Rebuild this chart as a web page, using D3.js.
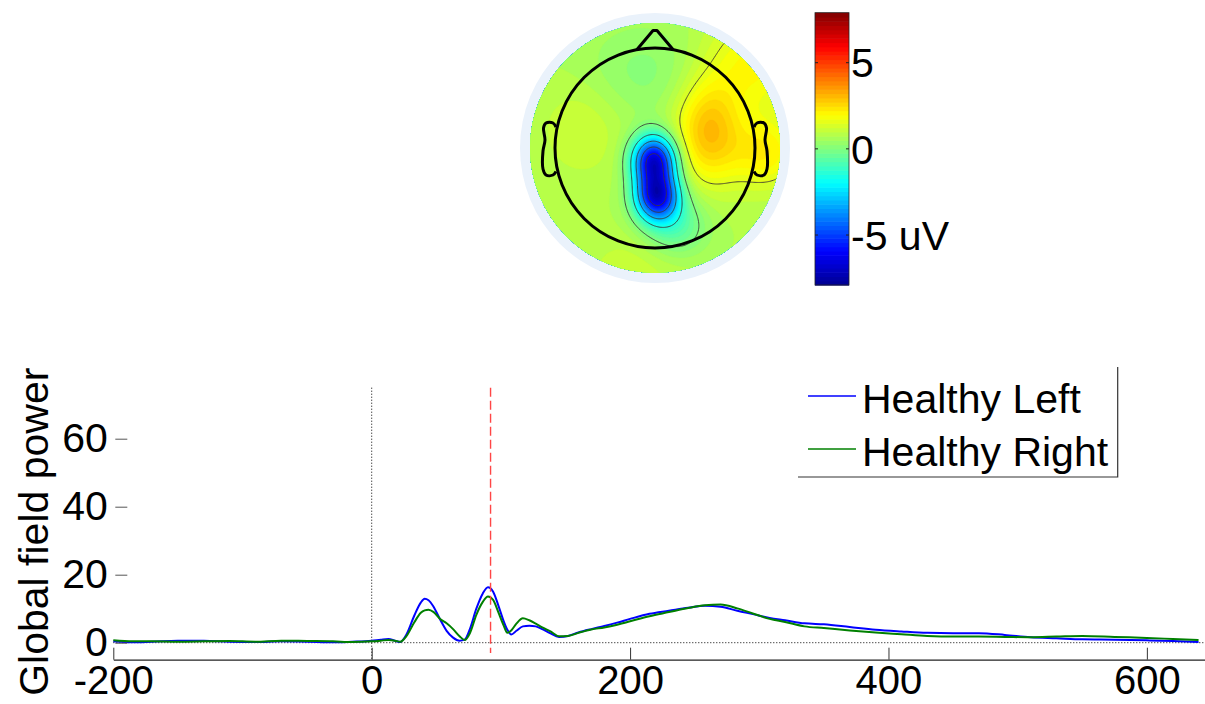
<!DOCTYPE html>
<html>
<head>
<meta charset="utf-8">
<script src="https://cdn.jsdelivr.net/npm/d3@7"></script>
<style>
  html, body { margin: 0; padding: 0; background: #fff; }
  svg { display: block; font-family: "Liberation Sans", Arial, Helvetica, sans-serif; }
</style>
</head>
<body>
<svg id="fig" width="1205" height="704"></svg>
<script>
// ---------------- data ----------------
// Global field power time courses (ms, uV^2)
const timesMs = [-200, -185, -170, -150, -130, -110, -90, -70, -50, -30, -15, 0, 7, 13, 18, 22, 27, 33, 38, 41, 44, 48, 53, 58, 63, 68, 72, 76, 81, 86, 90, 94, 98, 102, 105, 108, 112, 117, 122, 127, 132, 138, 145, 152, 160, 170, 180, 190, 200, 215, 230, 245, 258, 270, 283, 295, 308, 320, 335, 350, 370, 390, 410, 430, 450, 470, 490, 510, 530, 550, 575, 600, 620, 640];
const healthyLeft = [0.4, 0.1, 0.3, 0.6, 0.6, 0.3, 0.2, 0.4, 0.3, 0.1, 0.3, 0.6, 0.9, 1.1, 0.6, 0.2, 2.5, 8.0, 11.8, 12.9, 12.5, 10.5, 6.8, 3.5, 1.5, 0.6, 0.9, 4.0, 10.0, 14.5, 16.3, 15.0, 11.0, 6.5, 3.8, 2.4, 3.5, 4.8, 5.0, 4.8, 4.0, 2.8, 1.7, 2.0, 3.0, 4.0, 4.9, 5.9, 7.0, 8.5, 9.4, 10.3, 10.9, 10.6, 9.4, 8.4, 7.3, 6.6, 5.7, 5.4, 4.6, 3.8, 3.3, 2.9, 2.8, 2.8, 2.3, 1.6, 1.3, 1.0, 0.9, 0.7, 0.5, 0.2];
const healthyRight = [0.7, 0.4, 0.4, 0.3, 0.4, 0.5, 0.3, 0.6, 0.5, 0.4, 0.2, 0.4, 0.6, 0.8, 0.6, 0.3, 2.0, 6.0, 8.8, 9.5, 9.7, 9.0, 7.0, 5.7, 4.0, 1.9, 0.8, 2.8, 8.2, 12.0, 13.6, 12.6, 9.0, 5.2, 2.9, 3.6, 5.6, 7.2, 6.6, 5.6, 4.5, 3.4, 1.9, 2.0, 2.9, 3.9, 4.5, 5.3, 6.3, 7.8, 9.0, 10.2, 11.0, 11.2, 10.1, 8.6, 7.0, 6.1, 4.8, 4.3, 3.6, 3.0, 2.5, 2.0, 1.8, 1.8, 1.7, 1.6, 1.8, 2.0, 1.7, 1.4, 1.1, 0.8];
const seriesNames = ["Healthy Left", "Healthy Right"];
const seriesColors = ["#0000ff", "#008000"];
const xTicks = [-200, 0, 200, 400, 600];
const yTicks = [0, 20, 40, 60];
const xDomain = [-200, 645];
const yDomain = [-5, 75];
const yLabel = "Global field power";
const markerLatency = 92; // latency of the scalp map below

// Scalp map at the marked latency: smooth components in head-radius units (x right, y toward nose)
const mapBaseline = 0.75;
const compX   = [-0.01,  0.02,  0.21, 0.53, 1.00, 1.10, -0.72, -0.10, -0.15];
const compY   = [-0.12, -0.48, -0.78, 0.17, 0.85, -0.05, 0.21, 0.75, -1.20];
const compSx  = [ 0.15,  0.15,  0.22, 0.23, 0.35, 0.25, 0.30, 0.45, 0.40];
const compSy  = [ 0.17,  0.17,  0.22, 0.36, 0.35, 0.25, 0.35, 0.35, 0.25];
const compAmp = [ -7.0,  -7.0,  -1.4, 2.2, 1.3, 1.4, 0.5, -0.6, 0.4];
const contourLevels = [-6, -4.5, -3, -1.5, 0, 1.5];
const mapLimit = 7.9;
const colorbarTicks = [-5, 0, 5];
const colorbarLabels = ["-5 uV", "0", "5"];

// ---------------- helpers ----------------
const svg = d3.select("#fig");
const FONT = 41;

// MATLAB-style jet colormap over the map limits
const jet = d3.scaleLinear()
  .domain([0, 1/8, 3/8, 5/8, 7/8, 1].map(t => -mapLimit + 2 * mapLimit * t))
  .range(["#000090", "#0000ff", "#00ffff", "#ffff00", "#ff0000", "#800000"])
  .clamp(true);

// ---------------- scalp map ----------------
const headCx = 655, headCy = 148, headR = 100;
const hx = d3.scaleLinear().domain([-1, 1]).range([headCx - headR, headCx + headR]);
const hy = d3.scaleLinear().domain([1, -1]).range([headCy - headR, headCy + headR]);

// interpolation grid slightly larger than the plotted disk, so the disk edge is clean
const N = 230, ext = 1.3, diskR = 1.25;
const gx = d3.scaleLinear().domain([0, N]).range([-ext, ext]);
const gy = d3.scaleLinear().domain([0, N]).range([ext, -ext]);
const field = new Float64Array(N * N);
for (let j = 0; j < N; j++) {
  const yv = gy(j + 0.5);
  for (let i = 0; i < N; i++) {
    const xv = gx(i + 0.5);
    let v = mapBaseline;
    for (let k = 0; k < compAmp.length; k++) {
      const dx = (xv - compX[k]) / compSx[k], dy = (yv - compY[k]) / compSy[k];
      v += compAmp[k] * Math.exp(-0.5 * (dx * dx + dy * dy));
    }
    field[j * N + i] = v;
  }
}
const gridToScreen = d3.geoTransform({
  point(px, py) { this.stream.point(hx(gx(px)), hy(gy(py))); }
});
const gridPath = d3.geoPath(gridToScreen);

const defs = svg.append("defs");
defs.append("clipPath").attr("id", "disk")
  .append("circle").attr("cx", hx(0)).attr("cy", hy(0)).attr("r", hx(diskR) - hx(0));

const topo = svg.append("g");
topo.append("circle")
  .attr("cx", hx(0)).attr("cy", hy(0)).attr("r", hx(1.35) - hx(0))
  .attr("fill", "#eaf2fb");

const nBands = 64, bandStep = 2 * mapLimit / nBands;
const bandThresholds = d3.range(nBands).map(k => -mapLimit + k * bandStep);
const bands = d3.contours().size([N, N]).thresholds(bandThresholds)(field);
const mapG = topo.append("g").attr("clip-path", "url(#disk)");
mapG.selectAll("path.band").data(bands).join("path")
  .attr("class", "band")
  .attr("d", gridPath)
  .attr("fill", d => jet(d.value + bandStep / 2))
  .attr("stroke", d => jet(d.value + bandStep / 2))
  .attr("stroke-width", 0.3);

const isolines = d3.contours().size([N, N]).thresholds(contourLevels)(field);
mapG.selectAll("path.iso").data(isolines).join("path")
  .attr("class", "iso")
  .attr("d", gridPath)
  .attr("fill", "none")
  .attr("stroke", "#3a3a3a")
  .attr("stroke-width", 0.9);

// head outline, nose and ears
topo.append("circle")
  .attr("cx", hx(0)).attr("cy", hy(0)).attr("r", hx(1) - hx(0))
  .attr("fill", "none").attr("stroke", "#000").attr("stroke-width", 3);
const outline = d3.line().x(d => hx(d[0])).y(d => hy(d[1]));
const nose = [[-0.18, 0.985], [-0.02, 1.175], [0.02, 1.175], [0.18, 0.985]];
topo.append("path").attr("d", outline(nose))
  .attr("fill", "none").attr("stroke", "#000").attr("stroke-width", 3)
  .attr("stroke-linejoin", "round");
const ear = [[0.99, 0.21], [1.02, 0.25], [1.09, 0.25], [1.115, 0.20], [1.10, 0.08], [1.12, -0.03], [1.12, -0.21], [1.09, -0.27], [1.02, -0.27], [0.99, -0.235]];
const earLine = d3.line().x(d => hx(d[0])).y(d => hy(d[1])).curve(d3.curveCatmullRom);
[1, -1].forEach(s => {
  topo.append("path").attr("d", earLine(ear.map(p => [s * p[0], p[1]])))
    .attr("fill", "none").attr("stroke", "#000").attr("stroke-width", 3)
    .attr("stroke-linejoin", "round");
});

// colour bar
const cbX0 = 815, cbW = 34;
const cbScale = d3.scaleLinear().domain([-mapLimit, mapLimit]).range([285, 12.7]);
const cb = svg.append("g");
cb.selectAll("rect").data(bandThresholds).join("rect")
  .attr("x", cbX0).attr("width", cbW)
  .attr("y", d => cbScale(d + bandStep))
  .attr("height", d => cbScale(d) - cbScale(d + bandStep) + 0.6)
  .attr("fill", d => jet(d + bandStep / 2));
cb.append("rect")
  .attr("x", cbX0).attr("y", cbScale(mapLimit)).attr("width", cbW)
  .attr("height", cbScale(-mapLimit) - cbScale(mapLimit))
  .attr("fill", "none").attr("stroke", "#222").attr("stroke-width", 0.8);
colorbarTicks.forEach((t, i) => {
  const ty = cbScale(t);
  cb.append("line").attr("x1", cbX0).attr("x2", cbX0 + 3).attr("y1", ty).attr("y2", ty).attr("stroke", "#222");
  cb.append("line").attr("x1", cbX0 + cbW - 3).attr("x2", cbX0 + cbW).attr("y1", ty).attr("y2", ty).attr("stroke", "#222");
  cb.append("text").attr("x", cbX0 + cbW + 2).attr("y", ty).attr("dy", "0.36em")
    .attr("font-size", FONT).attr("fill", "#000").text(colorbarLabels[i]);
});

// ---------------- global field power ----------------
const x = d3.scaleLinear().domain(xDomain).range([113.3, 1205]);
const y = d3.scaleLinear().domain(yDomain).range([659.7, 387.7]);
const plot = svg.append("g");

// reference lines: stimulus onset and zero level
plot.append("line")
  .attr("x1", x(0)).attr("x2", x(0)).attr("y1", y(yDomain[1])).attr("y2", y(yDomain[0]))
  .attr("stroke", "#000").attr("stroke-width", 1).attr("stroke-dasharray", "1,2");
plot.append("line")
  .attr("x1", x(xDomain[0])).attr("x2", x(xDomain[1])).attr("y1", y(0)).attr("y2", y(0))
  .attr("stroke", "#000").attr("stroke-width", 1).attr("stroke-dasharray", "1,2");

const series = [healthyLeft, healthyRight];
const gfpLine = d3.line()
  .x((d, i) => x(timesMs[i]))
  .y(d => y(d))
  .curve(d3.curveMonotoneX);
plot.selectAll("path.gfp").data(series).join("path")
  .attr("class", "gfp")
  .attr("d", gfpLine)
  .attr("fill", "none")
  .attr("stroke", (d, i) => seriesColors[i])
  .attr("stroke-width", 2);

// latency marker
plot.append("line")
  .attr("x1", x(markerLatency)).attr("x2", x(markerLatency))
  .attr("y1", y(yDomain[1])).attr("y2", y(-3))
  .attr("stroke", "#ff4646").attr("stroke-width", 1.4).attr("stroke-dasharray", "9,4");

// axes (plain hyphen for negative numbers)
const plainNum = d => String(d);
const xAxis = d3.axisBottom(x).tickValues(xTicks).tickFormat(plainNum)
  .tickSizeInner(-12).tickSizeOuter(0).tickPadding(6);
const gx0 = plot.append("g").attr("transform", `translate(0,${y(yDomain[0])})`).call(xAxis);
gx0.select(".domain").attr("stroke", "#222").attr("stroke-width", 1.2);
gx0.selectAll(".tick line").attr("stroke", "#333");
gx0.selectAll("text").attr("font-size", 40).attr("fill", "#000").attr("font-family", null);

const yAxis = d3.axisLeft(y).tickValues(yTicks).tickFormat(plainNum)
  .tickSizeInner(-12).tickSizeOuter(0).tickPadding(5.5);
const gy0 = plot.append("g").attr("transform", `translate(${x(xDomain[0])},0)`).call(yAxis);
gy0.select(".domain").remove();
gy0.selectAll(".tick line").attr("stroke", "#555").attr("transform", "translate(2,0)");
gy0.selectAll("text").attr("font-size", FONT).attr("fill", "#000").attr("font-family", null);

plot.append("text")
  .attr("transform", `translate(48,${(y(yDomain[0]) + y(yDomain[1])) / 2 + 8}) rotate(-90)`)
  .attr("text-anchor", "middle")
  .attr("font-size", FONT).attr("fill", "#000")
  .text(yLabel);

// legend
const legend = plot.append("g");
legend.append("path")
  .attr("d", "M798,477H1117.7V367")
  .attr("fill", "none").attr("stroke", "#333").attr("stroke-width", 1.2);
seriesNames.forEach((name, i) => {
  const ly = 396 + i * 53;
  legend.append("line").attr("x1", 808).attr("x2", 856).attr("y1", ly).attr("y2", ly)
    .attr("stroke", seriesColors[i]).attr("stroke-width", 1.5);
  legend.append("text").attr("x", 862).attr("y", ly + 17)
    .attr("font-size", FONT).attr("fill", "#000").text(name);
});
</script>
</body>
</html>
